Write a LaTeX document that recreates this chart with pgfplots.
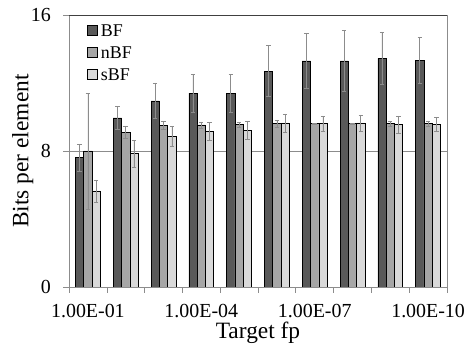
\documentclass[border=0pt]{standalone}
\usepackage{pgfplots}
\pgfplotsset{compat=1.18}
\usepackage{fontspec}
\setmainfont{Liberation Serif}
\definecolor{cBF}{HTML}{595959}
\definecolor{cnBF}{HTML}{A6A6A6}
\definecolor{csBF}{HTML}{D9D9D9}
\definecolor{cerr}{HTML}{8C8C8C}
\begin{document}
\begin{tikzpicture}
\useasboundingbox (0,0) rectangle (466bp,351bp);
\begin{axis}[
  at={(69bp,64bp)}, anchor=south west,
  scale only axis, width=378bp, height=272bp,
  xmin=-0.5, xmax=9.5, ymin=0, ymax=16,
  ybar=0pt, bar width=8.3bp,
  xtick={0,3,6,9},
  xticklabels={1.00E-01,1.00E-04,1.00E-07,1.00E-10},
  major x tick style={draw=none},
  minor xtick={-0.5,0.5,...,9.5},
  minor tick length=-6bp,
  ytick={0,8,16},
  major tick length=-6bp,
  tick align=inside,
  tick pos=left,
  tick style={cerr, line width=0.6pt},
  ymajorgrids, grid style={cerr, line width=0.7pt},
  axis line style={cerr, line width=0.7pt},
  /pgf/number format/assume math mode=true,
  xticklabel style={font=\fontsize{20}{24}\selectfont, inner sep=0pt, anchor=north, yshift=-17bp},
  yticklabel style={font=\fontsize{20}{24}\selectfont, inner sep=0pt, anchor=east, xshift=-18bp},
  xlabel style={font=\fontsize{23.5}{27}\selectfont, inner sep=0pt,
    at={(axis description cs:0.5,-0.1268)}, anchor=north},
  ylabel style={font=\fontsize{23.5}{27}\selectfont, inner sep=0pt,
    at={(axis description cs:-0.1508,0.5)}, rotate=0, anchor=north},
  xlabel={Target fp},
  ylabel={Bits per element},
  legend style={draw=none, fill=none, at={(0.0484,0.9658)}, anchor=north west,
    font=\fontsize{18}{21}\selectfont, row sep=10bp, column sep=3.5bp,
    inner sep=0pt, outer sep=0pt,
    nodes={inner sep=0pt, text height=12bp, text depth=0bp},
    legend cell align=left},
  legend image code/.code={\draw[#1,draw=black,line width=0.6pt] (0bp,-4.7bp) rectangle (9.6bp,4.7bp);},
  error bars/error bar style={cerr, line width=0.6pt},
  error bars/error mark options={rotate=90, mark size=2.2bp, cerr, line width=0.6pt},
]
\addplot[fill=cBF, draw=black, line width=0.6pt,
  error bars/.cd, y dir=both, y explicit]
  table[x=x, y=y, y error=e] {
x y e
0 7.6 0.8
1 9.95 0.65
2 10.95 1.05
3 11.4 1.1
4 11.4 1.1
5 12.7 1.5
6 13.3 1.6
7 13.3 1.8
8 13.45 1.55
9 13.35 1.35
};
\addplot[fill=cnBF, draw=black, line width=0.6pt,
  error bars/.cd, y dir=both, y explicit]
  table[x=x, y=y, y error=e] {
x y e
0 8.0 3.4
1 9.1 0.38
2 9.5 0.22
3 9.53 0.18
4 9.55 0.14
5 9.6 0.2
6 9.6 0.03
7 9.6 0.02
8 9.6 0.12
9 9.6 0.15
};
\addplot[fill=csBF, draw=black, line width=0.6pt,
  error bars/.cd, y dir=both, y explicit]
  table[x=x, y=y, y error=e] {
x y e
0 5.65 0.65
1 7.85 0.8
2 8.85 0.6
3 9.15 0.55
4 9.2 0.53
5 9.65 0.53
6 9.6 0.47
7 9.65 0.47
8 9.57 0.5
9 9.57 0.42
};
\legend{BF,nBF,sBF}
\draw[black!75, line width=0.8pt] (rel axis cs:0,1) -- (rel axis cs:1,1) -- (rel axis cs:1,0);
\end{axis}
\end{tikzpicture}
\end{document}
